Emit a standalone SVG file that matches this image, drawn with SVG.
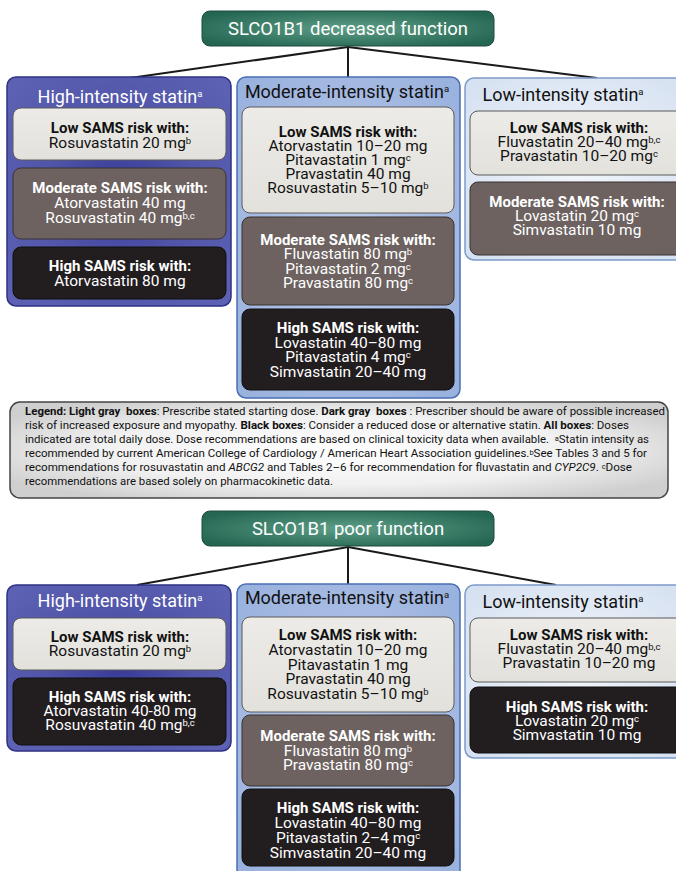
<svg xmlns="http://www.w3.org/2000/svg" width="676" height="871" viewBox="0 0 676 871">
<defs>
<radialGradient id="gHead" cx="50%" cy="50%" r="60%">
<stop offset="0" stop-color="#5f9f88"/><stop offset="1" stop-color="#246652"/>
</radialGradient>
<radialGradient id="gHigh" cx="50%" cy="50%" r="65%">
<stop offset="0" stop-color="#373b96"/><stop offset="0.5" stop-color="#5055a9"/><stop offset="1" stop-color="#5c61b3"/>
</radialGradient>
<radialGradient id="gMod" cx="50%" cy="50%" r="65%">
<stop offset="0" stop-color="#bccbea"/><stop offset="1" stop-color="#9ab2de"/>
</radialGradient>
<radialGradient id="gLow" cx="50%" cy="50%" r="65%">
<stop offset="0" stop-color="#f2f6fb"/><stop offset="1" stop-color="#d6e1f1"/>
</radialGradient>
<radialGradient id="gLeg" cx="50%" cy="50%" r="60%">
<stop offset="0" stop-color="#ffffff"/><stop offset="0.6" stop-color="#f1f1f1"/><stop offset="1" stop-color="#cfcfcf"/>
</radialGradient>
<linearGradient id="gLight" x1="0" y1="0" x2="0" y2="1">
<stop offset="0" stop-color="#ecebe7"/><stop offset="1" stop-color="#e2e1dc"/>
</linearGradient>
</defs>
<style>
.t{font-family:Roboto,"Liberation Sans",sans-serif;text-anchor:middle}
.hd{font-size:18.5px;fill:#ffffff}
.pt{font-size:18px}
.bd{font-size:15px;font-weight:bold}
.rg{font-size:15.5px;font-weight:normal}
.sup{font-size:9.5px}
.w{fill:#ffffff}
.k{fill:#111111}
.light{fill:url(#gLight);stroke:#5a5a5a;stroke-width:1}
.mod{fill:#6d625f;stroke:#3a3230;stroke-width:1}
.blk{fill:#221d1f;stroke:#111;stroke-width:1}
.head{fill:url(#gHead);stroke:#1c4a3e;stroke-width:1}
.phigh{fill:url(#gHigh);stroke:#2f3284;stroke-width:1.5}
.pmod{fill:url(#gMod);stroke:#4a6fb5;stroke-width:1.5}
.plow{fill:url(#gLow);stroke:#7d9bc9;stroke-width:1.5}
.conn{stroke:#1a1a1a;stroke-width:2;fill:none}
.lg{font-family:Roboto,"Liberation Sans",sans-serif;font-size:11.5px;fill:#111;white-space:pre}
.ls{font-size:7.5px}
</style>

<g id="connectors">
<path class="conn" d="M348,47 L348,78 M348,47 L130,78 M348,47 L597,78"/>
<path class="conn" d="M348,547 L348,585 M348,547 L137,585 M348,547 L556,585"/>
</g>

<!-- Top section -->
<g id="head-decreased">
<rect class="head" x="202" y="11" width="292" height="35" rx="8"/>
<text class="t hd" x="348" y="35">SLCO1B1 decreased function</text>
</g>

<g id="dec-high">
<rect class="phigh" x="7" y="77" width="224" height="229" rx="9"/>
<text class="t pt w" x="120" y="103">High-intensity statin<tspan class="sup" dy="-6">a</tspan></text>
<rect class="light" x="13" y="108" width="213" height="52" rx="8"/>
<text class="t k" x="120" y="133"><tspan class="bd" x="120">Low SAMS risk with:</tspan><tspan class="rg" x="120" dy="15">Rosuvastatin 20 mg</tspan><tspan class="sup" dy="-4">b</tspan></text>
<rect class="mod" x="13" y="168" width="213" height="71" rx="8"/>
<text class="t w" x="120" y="193"><tspan class="bd" x="120">Moderate SAMS risk with:</tspan><tspan class="rg" x="120" dy="15">Atorvastatin 40 mg</tspan><tspan class="rg" x="120" dy="15">Rosuvastatin 40 mg</tspan><tspan class="sup" dy="-4">b,c</tspan></text>
<rect class="blk" x="13" y="247" width="213" height="52" rx="8"/>
<text class="t w" x="120" y="271"><tspan class="bd" x="120">High SAMS risk with:</tspan><tspan class="rg" x="120" dy="15">Atorvastatin 80 mg</tspan></text>
</g>

<g id="dec-moderate">
<rect class="pmod" x="237" y="77" width="223" height="321" rx="9"/>
<text class="t pt k" x="347" y="98">Moderate-intensity statin<tspan class="sup" dy="-6">a</tspan></text>
<rect class="light" x="242" y="107" width="212" height="106" rx="8"/>
<text class="t k" x="348" y="137"><tspan class="bd" x="348">Low SAMS risk with:</tspan><tspan class="rg" x="348" dy="14">Atorvastatin 10–20 mg</tspan><tspan class="rg" x="348" dy="14">Pitavastatin 1 mg</tspan><tspan class="sup" dy="-4">c</tspan><tspan class="rg" x="348" dy="18">Pravastatin 40 mg</tspan><tspan class="rg" x="348" dy="14">Rosuvastatin 5–10 mg</tspan><tspan class="sup" dy="-4">b</tspan></text>
<rect class="mod" x="242" y="217" width="212" height="88" rx="8"/>
<text class="t w" x="348" y="245"><tspan class="bd" x="348">Moderate SAMS risk with:</tspan><tspan class="rg" x="348" dy="14">Fluvastatin 80 mg</tspan><tspan class="sup" dy="-4">b</tspan><tspan class="rg" x="348" dy="19">Pitavastatin 2 mg</tspan><tspan class="sup" dy="-4">c</tspan><tspan class="rg" x="348" dy="18">Pravastatin 80 mg</tspan><tspan class="sup" dy="-4">c</tspan></text>
<rect class="blk" x="242" y="309" width="212" height="81" rx="8"/>
<text class="t w" x="348" y="333"><tspan class="bd" x="348">High SAMS risk with:</tspan><tspan class="rg" x="348" dy="15">Lovastatin 40–80 mg</tspan><tspan class="rg" x="348" dy="14">Pitavastatin 4 mg</tspan><tspan class="sup" dy="-4">c</tspan><tspan class="rg" x="348" dy="19">Simvastatin 20–40 mg</tspan></text>
</g>

<g id="dec-low">
<rect class="plow" x="465" y="78" width="225" height="182" rx="9"/>
<text class="t pt k" x="563" y="101">Low-intensity statin<tspan class="sup" dy="-6">a</tspan></text>
<rect class="light" x="470" y="111" width="216" height="64" rx="8"/>
<text class="t k" x="579" y="133"><tspan class="bd" x="579">Low SAMS risk with:</tspan><tspan class="rg" x="579" dy="14">Fluvastatin 20–40 mg</tspan><tspan class="sup" dy="-4">b,c</tspan><tspan class="rg" x="579" dy="18">Pravastatin 10–20 mg</tspan><tspan class="sup" dy="-4">c</tspan></text>
<rect class="mod" x="470" y="182" width="216" height="73" rx="8"/>
<text class="t w" x="577" y="207"><tspan class="bd" x="577">Moderate SAMS risk with:</tspan><tspan class="rg" x="577" dy="14">Lovastatin 20 mg</tspan><tspan class="sup" dy="-4">c</tspan><tspan class="rg" x="577" dy="18">Simvastatin 10 mg</tspan></text>
</g>

<g id="legend">
<rect x="10" y="402" width="658" height="96" rx="10" fill="url(#gLeg)" stroke="#444" stroke-width="1.5"/>
<text class="lg" x="25" y="415"><tspan x="25" y="415" textLength="640" lengthAdjust="spacingAndGlyphs"><tspan font-weight="bold">Legend: Light gray  boxes</tspan>: Prescribe stated starting dose. <tspan font-weight="bold">Dark gray  boxes </tspan>: Prescriber should be aware of possible increased</tspan><tspan x="25" y="429" textLength="604" lengthAdjust="spacingAndGlyphs">risk of increased exposure and myopathy. <tspan font-weight="bold">Black boxes</tspan>: Consider a reduced dose or alternative statin. <tspan font-weight="bold">All boxes</tspan>: Doses</tspan><tspan x="25" y="443" textLength="624" lengthAdjust="spacingAndGlyphs">indicated are total daily dose. Dose recommendations are based on clinical toxicity data when available.  <tspan class="ls" dy="-2.5">a</tspan><tspan dy="2.5">Statin intensity as</tspan></tspan><tspan x="25" y="457" textLength="622" lengthAdjust="spacingAndGlyphs">recommended by current American College of Cardiology / American Heart Association guidelines.<tspan class="ls" dy="-2.5">b</tspan><tspan dy="2.5">See Tables 3 and 5 for</tspan></tspan><tspan x="25" y="471" textLength="607" lengthAdjust="spacingAndGlyphs">recommendations for rosuvastatin and <tspan font-style="italic">ABCG2</tspan> and Tables 2–6 for recommendation for fluvastatin and <tspan font-style="italic">CYP2C9</tspan>. <tspan class="ls" dy="-2.5">c</tspan><tspan dy="2.5">Dose</tspan></tspan><tspan x="25" y="485" textLength="308" lengthAdjust="spacingAndGlyphs">recommendations are based solely on pharmacokinetic data.</tspan></text>
</g>

<!-- Bottom section -->
<g id="head-poor">
<rect class="head" x="202" y="511" width="292" height="35" rx="8"/>
<text class="t hd" x="348" y="535">SLCO1B1 poor function</text>
</g>

<g id="poor-high">
<rect class="phigh" x="7" y="585" width="224" height="166" rx="9"/>
<text class="t pt w" x="120" y="607">High-intensity statin<tspan class="sup" dy="-6">a</tspan></text>
<rect class="light" x="13" y="618" width="213" height="52" rx="8"/>
<text class="t k" x="120" y="642"><tspan class="bd" x="120">Low SAMS risk with:</tspan><tspan class="rg" x="120" dy="14">Rosuvastatin 20 mg</tspan><tspan class="sup" dy="-4">b</tspan></text>
<rect class="blk" x="13" y="678" width="213" height="67" rx="8"/>
<text class="t w" x="120" y="702"><tspan class="bd" x="120">High SAMS risk with:</tspan><tspan class="rg" x="120" dy="14">Atorvastatin 40-80 mg</tspan><tspan class="rg" x="120" dy="14">Rosuvastatin 40 mg</tspan><tspan class="sup" dy="-4">b,c</tspan></text>
</g>

<g id="poor-moderate">
<rect class="pmod" x="237" y="584" width="223" height="296" rx="9"/>
<text class="t pt k" x="347" y="604">Moderate-intensity statin<tspan class="sup" dy="-6">a</tspan></text>
<rect class="light" x="242" y="617" width="212" height="95" rx="8"/>
<text class="t k" x="348" y="640"><tspan class="bd" x="348">Low SAMS risk with:</tspan><tspan class="rg" x="348" dy="15">Atorvastatin 10–20 mg</tspan><tspan class="rg" x="348" dy="15">Pitavastatin 1 mg</tspan><tspan class="rg" x="348" dy="14">Pravastatin 40 mg</tspan><tspan class="rg" x="348" dy="15">Rosuvastatin 5–10 mg</tspan><tspan class="sup" dy="-4">b</tspan></text>
<rect class="mod" x="242" y="715" width="212" height="71" rx="8"/>
<text class="t w" x="348" y="741"><tspan class="bd" x="348">Moderate SAMS risk with:</tspan><tspan class="rg" x="348" dy="15">Fluvastatin 80 mg</tspan><tspan class="sup" dy="-4">b</tspan><tspan class="rg" x="348" dy="18">Pravastatin 80 mg</tspan><tspan class="sup" dy="-4">c</tspan></text>
<rect class="blk" x="242" y="789" width="212" height="77" rx="8"/>
<text class="t w" x="348" y="813"><tspan class="bd" x="348">High SAMS risk with:</tspan><tspan class="rg" x="348" dy="15">Lovastatin 40–80 mg</tspan><tspan class="rg" x="348" dy="15">Pitavastatin 2–4 mg</tspan><tspan class="sup" dy="-4">c</tspan><tspan class="rg" x="348" dy="19">Simvastatin 20–40 mg</tspan></text>
</g>

<g id="poor-low">
<rect class="plow" x="465" y="585" width="225" height="173" rx="9"/>
<text class="t pt k" x="563" y="608">Low-intensity statin<tspan class="sup" dy="-6">a</tspan></text>
<rect class="light" x="470" y="618" width="216" height="64" rx="8"/>
<text class="t k" x="579" y="640"><tspan class="bd" x="579">Low SAMS risk with:</tspan><tspan class="rg" x="579" dy="14">Fluvastatin 20–40 mg</tspan><tspan class="sup" dy="-4">b,c</tspan><tspan class="rg" x="579" dy="18">Pravastatin 10–20 mg</tspan></text>
<rect class="blk" x="470" y="687" width="216" height="66" rx="8"/>
<text class="t w" x="577" y="712"><tspan class="bd" x="577">High SAMS risk with:</tspan><tspan class="rg" x="577" dy="14">Lovastatin 20 mg</tspan><tspan class="sup" dy="-4">c</tspan><tspan class="rg" x="577" dy="18">Simvastatin 10 mg</tspan></text>
</g>
</svg>
